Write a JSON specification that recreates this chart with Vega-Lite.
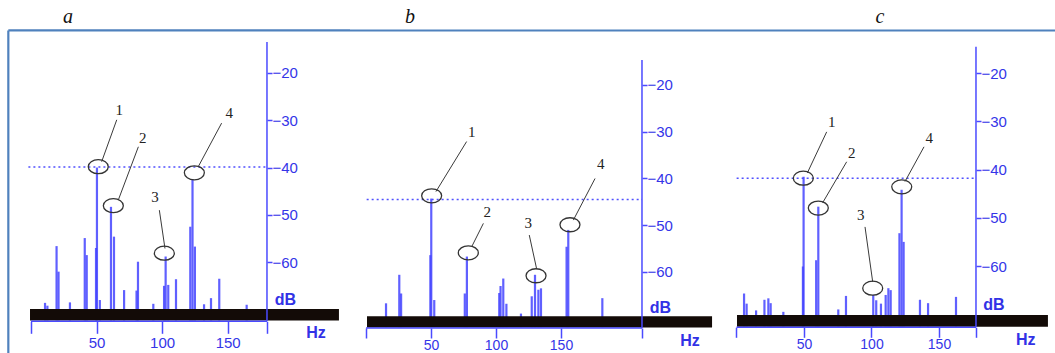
{
  "$schema": "https://vega.github.io/schema/vega-lite/v6.json",
  "padding": 0,
  "spacing": 0,
  "bounds": "flush",
  "background": "white",
  "config": {
    "view": {"stroke": null},
    "axis": {"grid": false, "domain": false, "title": null, "labelFont": "Liberation Sans", "labelFontSize": 15, "labelColor": "#3535e8", "tickColor": "#4a4aff", "tickWidth": 1.5, "labelOverlap": false, "labelFlush": false}
  },
  "datasets": {
    "pa": [
      {"kind": "frame", "hz": -17.3, "hz2": 243.33, "db": -11.01, "db2": -11.01},
      {"kind": "frame", "hz": -17.3, "hz2": -17.3, "db": -11.01, "db2": -79.2},
      {"kind": "ref", "hz": -2, "hz2": 180, "db": -39.9},
      {"kind": "spike", "hz": 10.7, "db": -68.6},
      {"kind": "spike", "hz": 12.5, "db": -69.2},
      {"kind": "spike", "hz": 19.5, "db": -56.6},
      {"kind": "spike", "hz": 21, "db": -62},
      {"kind": "spike", "hz": 29.7, "db": -68.5},
      {"kind": "spike", "hz": 41, "db": -54.9},
      {"kind": "spike", "hz": 42.5, "db": -58.5},
      {"kind": "spike", "hz": 49.6, "db": -57},
      {"kind": "spike", "hz": 50.3, "db": -40},
      {"kind": "spike", "hz": 52.5, "db": -68},
      {"kind": "spike", "hz": 61, "db": -48.3},
      {"kind": "spike", "hz": 63.3, "db": -54.6},
      {"kind": "spike", "hz": 71, "db": -65.9},
      {"kind": "spike", "hz": 80.5, "db": -66},
      {"kind": "spike", "hz": 81.6, "db": -59.9},
      {"kind": "spike", "hz": 93.3, "db": -68.8},
      {"kind": "spike", "hz": 101.5, "db": -65},
      {"kind": "spike", "hz": 102.7, "db": -58.8},
      {"kind": "spike", "hz": 104.7, "db": -64.8},
      {"kind": "spike", "hz": 110.6, "db": -63.6},
      {"kind": "spike", "hz": 121.5, "db": -52.5},
      {"kind": "spike", "hz": 123.2, "db": -42.5},
      {"kind": "spike", "hz": 125, "db": -56.7},
      {"kind": "spike", "hz": 132, "db": -68.9},
      {"kind": "spike", "hz": 137.3, "db": -67.6},
      {"kind": "spike", "hz": 143.6, "db": -63.5},
      {"kind": "spike", "hz": 164.5, "db": -69},
      {"kind": "bar", "hz": -0.76, "hz2": 234.9, "db": -69.9, "db2": -72.35},
      {"kind": "axis", "hz": 0, "hz2": 180, "db": -72.5, "db2": -72.5},
      {"kind": "axis", "hz": 180, "hz2": 180, "db": -13.45, "db2": -72.5},
      {"kind": "circle", "hz": 51.3, "db": -39.8},
      {"kind": "circle", "hz": 62.8, "db": -48.05},
      {"kind": "circle", "hz": 101.7, "db": -58.1},
      {"kind": "circle", "hz": 124.6, "db": -41.1},
      {"kind": "leader", "hz": 53.9, "db": -38.75, "hz2": 65.4, "db2": -29.9},
      {"kind": "leader", "hz": 66.6, "db": -46.85, "hz2": 81.9, "db2": -35.6},
      {"kind": "leader", "hz": 102.2, "db": -57.1, "hz2": 97.9, "db2": -49.0},
      {"kind": "leader", "hz": 127.6, "db": -39.8, "hz2": 145.4, "db2": -30.6},
      {"kind": "num", "hz": 67.4, "db": -27.8, "t": "1"},
      {"kind": "num", "hz": 85.2, "db": -33.8, "t": "2"},
      {"kind": "num", "hz": 94.6, "db": -46.2, "t": "3"},
      {"kind": "num", "hz": 151.3, "db": -28.5, "t": "4"},
      {"kind": "unit", "hz": 194.1, "db": -68.0, "t": "dB"},
      {"kind": "unit", "hz": 217.4, "db": -74.97, "t": "Hz"},
      {"kind": "letter", "hz": 28.2, "db": -8.16, "t": "a"}
    ],
    "pb": [
      {"kind": "frame", "hz": -12.31, "hz2": 273.85, "db": -8.34, "db2": -8.34},
      {"kind": "ref", "hz": 0.5, "hz2": 212.3, "db": -44.5},
      {"kind": "spike", "hz": 15.4, "db": -66.7},
      {"kind": "spike", "hz": 25.6, "db": -60.6},
      {"kind": "spike", "hz": 27, "db": -64.6},
      {"kind": "spike", "hz": 49.5, "db": -56.4},
      {"kind": "spike", "hz": 50.2, "db": -44.3},
      {"kind": "spike", "hz": 52.5, "db": -66},
      {"kind": "spike", "hz": 76, "db": -64.6},
      {"kind": "spike", "hz": 77.6, "db": -56.7},
      {"kind": "spike", "hz": 102.5, "db": -64.5},
      {"kind": "spike", "hz": 103.5, "db": -63},
      {"kind": "spike", "hz": 105.6, "db": -61.4},
      {"kind": "spike", "hz": 108, "db": -66.8},
      {"kind": "spike", "hz": 119.2, "db": -68.9},
      {"kind": "spike", "hz": 127.5, "db": -65.2},
      {"kind": "spike", "hz": 130, "db": -60.6},
      {"kind": "spike", "hz": 132.6, "db": -63.8},
      {"kind": "spike", "hz": 134.6, "db": -63.5},
      {"kind": "spike", "hz": 154.3, "db": -54.6},
      {"kind": "spike", "hz": 155.6, "db": -51},
      {"kind": "spike", "hz": 181.8, "db": -65.6},
      {"kind": "bar", "hz": 0.77, "hz2": 266.2, "db": -69.45, "db2": -71.85},
      {"kind": "axis", "hz": 0, "hz2": 212.3, "db": -71.98, "db2": -71.98},
      {"kind": "axis", "hz": 212.3, "hz2": 212.3, "db": -14.65, "db2": -71.98},
      {"kind": "circle", "hz": 50.5, "db": -43.7},
      {"kind": "circle", "hz": 78.7, "db": -55.9},
      {"kind": "circle", "hz": 130.8, "db": -60.8},
      {"kind": "circle", "hz": 156.9, "db": -49.9},
      {"kind": "leader", "hz": 53.8, "db": -42.8, "hz2": 77.4, "db2": -32.1},
      {"kind": "leader", "hz": 81.3, "db": -54.6, "hz2": 90.3, "db2": -49.6},
      {"kind": "leader", "hz": 131.3, "db": -59.4, "hz2": 125.6, "db2": -52.1},
      {"kind": "leader", "hz": 159.5, "db": -48.9, "hz2": 176.2, "db2": -40.0},
      {"kind": "num", "hz": 81.3, "db": -30.0, "t": "1"},
      {"kind": "num", "hz": 93.3, "db": -47.1, "t": "2"},
      {"kind": "num", "hz": 124.9, "db": -49.5, "t": "3"},
      {"kind": "num", "hz": 180.5, "db": -36.8, "t": "4"},
      {"kind": "unit", "hz": 226.5, "db": -67.7, "t": "dB"},
      {"kind": "unit", "hz": 249.2, "db": -74.76, "t": "Hz"},
      {"kind": "letter", "hz": 33.8, "db": -5.45, "t": "b"}
    ],
    "pc": [
      {"kind": "frame", "hz": -10.74, "hz2": 235.93, "db": -11.19, "db2": -11.19},
      {"kind": "ref", "hz": 0.1, "hz2": 177.4, "db": -41.8},
      {"kind": "spike", "hz": 5.6, "db": -65.7},
      {"kind": "spike", "hz": 7.5, "db": -67.8},
      {"kind": "spike", "hz": 14.5, "db": -69.2},
      {"kind": "spike", "hz": 20.7, "db": -67},
      {"kind": "spike", "hz": 23.6, "db": -66.7},
      {"kind": "spike", "hz": 25.3, "db": -67.7},
      {"kind": "spike", "hz": 34.7, "db": -69.5},
      {"kind": "spike", "hz": 49.2, "db": -60.1},
      {"kind": "spike", "hz": 49.7, "db": -41.5},
      {"kind": "spike", "hz": 59, "db": -58.8},
      {"kind": "spike", "hz": 60.6, "db": -47.7},
      {"kind": "spike", "hz": 75.4, "db": -69},
      {"kind": "spike", "hz": 81.1, "db": -66.2},
      {"kind": "spike", "hz": 101.3, "db": -66},
      {"kind": "spike", "hz": 103.5, "db": -67.1},
      {"kind": "spike", "hz": 107, "db": -67.8},
      {"kind": "spike", "hz": 110.5, "db": -66},
      {"kind": "spike", "hz": 112.5, "db": -64.6},
      {"kind": "spike", "hz": 114.2, "db": -65},
      {"kind": "spike", "hz": 120.7, "db": -53.2},
      {"kind": "spike", "hz": 122.3, "db": -44.2},
      {"kind": "spike", "hz": 123.8, "db": -55},
      {"kind": "spike", "hz": 135.9, "db": -67},
      {"kind": "spike", "hz": 141.9, "db": -67.7},
      {"kind": "spike", "hz": 162.6, "db": -66.4},
      {"kind": "bar", "hz": 0.37, "hz2": 230.7, "db": -70.15, "db2": -72.58},
      {"kind": "axis", "hz": 0, "hz2": 177.4, "db": -72.7, "db2": -72.7},
      {"kind": "axis", "hz": 177.4, "hz2": 177.4, "db": -14.55, "db2": -72.7},
      {"kind": "circle", "hz": 49.5, "db": -41.8},
      {"kind": "circle", "hz": 60.6, "db": -48.0},
      {"kind": "circle", "hz": 100.9, "db": -64.6},
      {"kind": "circle", "hz": 122.4, "db": -43.6},
      {"kind": "leader", "hz": 52.5, "db": -40.7, "hz2": 66.8, "db2": -32.2},
      {"kind": "leader", "hz": 63.8, "db": -46.9, "hz2": 81.6, "db2": -38.4},
      {"kind": "leader", "hz": 100.9, "db": -63.3, "hz2": 95.2, "db2": -51.9},
      {"kind": "leader", "hz": 124.8, "db": -42.5, "hz2": 138.9, "db2": -35.3},
      {"kind": "num", "hz": 70.5, "db": -30.1, "t": "1"},
      {"kind": "num", "hz": 85.3, "db": -36.6, "t": "2"},
      {"kind": "num", "hz": 92.0, "db": -49.4, "t": "3"},
      {"kind": "num", "hz": 142.8, "db": -33.5, "t": "4"},
      {"kind": "unit", "hz": 190.7, "db": -68.1, "t": "dB"},
      {"kind": "unit", "hz": 214.2, "db": -75.3, "t": "Hz"},
      {"kind": "letter", "hz": 106.3, "db": -8.39, "t": "c"}
    ]
  },
  "hconcat": [
    {
      "width": 350, "height": 353,
      "data": {"name": "pa"},
      "encoding": {
        "x": {"field": "hz", "type": "quantitative", "scale": {"domain": [-23.65, 243.33], "nice": false, "zero": false},
              "axis": {"orient": "bottom", "offset": -31.7, "values": [0, 50, 100, 150, 180], "labelExpr": "datum.value == 0 || datum.value > 160 ? '' : datum.label", "tickSize": 12, "labelPadding": 2}},
        "y": {"field": "db", "type": "quantitative", "scale": {"domain": [-79.2, -4.567], "nice": false, "zero": false},
              "axis": {"orient": "right", "offset": -83, "values": [-20, -30, -40, -50, -60], "tickSize": 5, "labelPadding": 0}}
      },
      "layer": [
        {"transform": [{"filter": "datum.kind == 'frame'"}], "mark": {"type": "rule", "color": "#4f81bd", "strokeWidth": 2.2}, "encoding": {"x2": {"field": "hz2"}, "y2": {"field": "db2"}}},
        {"transform": [{"filter": "datum.kind == 'ref'"}], "mark": {"type": "rule", "color": "#5050ff", "strokeWidth": 1.5, "strokeDash": [2, 3]}, "encoding": {"x2": {"field": "hz2"}}},
        {"transform": [{"filter": "datum.kind == 'spike'"}], "mark": {"type": "rule", "color": "#4444ff", "strokeWidth": 2.2, "opacity": 0.85}, "encoding": {"y2": {"datum": -72.3}}},
        {"transform": [{"filter": "datum.kind == 'bar'"}], "mark": {"type": "rect", "color": "#130b07"}, "encoding": {"x2": {"field": "hz2"}, "y2": {"field": "db2"}}},
        {"transform": [{"filter": "datum.kind == 'axis'"}], "mark": {"type": "rule", "color": "#4a4aff", "strokeWidth": 1.5}, "encoding": {"x2": {"field": "hz2"}, "y2": {"field": "db2"}}},
        {"transform": [{"filter": "datum.kind == 'circle'"}], "mark": {"type": "point", "shape": "M-1,0A1,0.7,0,1,1,1,0A1,0.7,0,1,1,-1,0Z", "size": 400, "filled": false, "stroke": "#333333", "strokeWidth": 1.3, "opacity": 1}},
        {"transform": [{"filter": "datum.kind == 'leader'"}], "mark": {"type": "rule", "color": "#3a3a3a", "strokeWidth": 1}, "encoding": {"x2": {"field": "hz2"}, "y2": {"field": "db2"}}},
        {"transform": [{"filter": "datum.kind == 'num'"}], "mark": {"type": "text", "font": "Liberation Serif", "fontSize": 15, "color": "#222222", "align": "center", "baseline": "middle"}, "encoding": {"text": {"field": "t"}}},
        {"transform": [{"filter": "datum.kind == 'unit'"}], "mark": {"type": "text", "font": "Liberation Sans", "fontSize": 16, "fontWeight": "bold", "color": "#3232e6", "align": "center", "baseline": "middle"}, "encoding": {"text": {"field": "t"}}},
        {"transform": [{"filter": "datum.kind == 'letter'"}], "mark": {"type": "text", "font": "Liberation Serif", "fontSize": 20, "fontStyle": "italic", "color": "#111111", "align": "center", "baseline": "middle"}, "encoding": {"text": {"field": "t"}}}
      ]
    },
    {
      "width": 372, "height": 353,
      "data": {"name": "pb"},
      "encoding": {
        "x": {"field": "hz", "type": "quantitative", "scale": {"domain": [-12.31, 273.85], "nice": false, "zero": false},
              "axis": {"orient": "bottom", "offset": -25, "values": [0, 50, 100, 150, 212.3], "labelExpr": "datum.value == 0 || datum.value > 200 ? '' : datum.label", "tickSize": 10, "labelPadding": 0, "labelFontSize": 14}},
        "y": {"field": "db", "type": "quantitative", "scale": {"domain": [-77.33, -1.818], "nice": false, "zero": false},
              "axis": {"orient": "right", "offset": -80, "values": [-20, -30, -40, -50, -60], "tickSize": 5, "labelPadding": 0}}
      },
      "layer": [
        {"transform": [{"filter": "datum.kind == 'frame'"}], "mark": {"type": "rule", "color": "#4f81bd", "strokeWidth": 2.2}, "encoding": {"x2": {"field": "hz2"}, "y2": {"field": "db2"}}},
        {"transform": [{"filter": "datum.kind == 'ref'"}], "mark": {"type": "rule", "color": "#5050ff", "strokeWidth": 1.5, "strokeDash": [2, 3]}, "encoding": {"x2": {"field": "hz2"}}},
        {"transform": [{"filter": "datum.kind == 'spike'"}], "mark": {"type": "rule", "color": "#4444ff", "strokeWidth": 2.2, "opacity": 0.85}, "encoding": {"y2": {"datum": -71.8}}},
        {"transform": [{"filter": "datum.kind == 'bar'"}], "mark": {"type": "rect", "color": "#130b07"}, "encoding": {"x2": {"field": "hz2"}, "y2": {"field": "db2"}}},
        {"transform": [{"filter": "datum.kind == 'axis'"}], "mark": {"type": "rule", "color": "#4a4aff", "strokeWidth": 1.5}, "encoding": {"x2": {"field": "hz2"}, "y2": {"field": "db2"}}},
        {"transform": [{"filter": "datum.kind == 'circle'"}], "mark": {"type": "point", "shape": "M-1,0A1,0.7,0,1,1,1,0A1,0.7,0,1,1,-1,0Z", "size": 400, "filled": false, "stroke": "#333333", "strokeWidth": 1.3, "opacity": 1}},
        {"transform": [{"filter": "datum.kind == 'leader'"}], "mark": {"type": "rule", "color": "#3a3a3a", "strokeWidth": 1}, "encoding": {"x2": {"field": "hz2"}, "y2": {"field": "db2"}}},
        {"transform": [{"filter": "datum.kind == 'num'"}], "mark": {"type": "text", "font": "Liberation Serif", "fontSize": 15, "color": "#222222", "align": "center", "baseline": "middle"}, "encoding": {"text": {"field": "t"}}},
        {"transform": [{"filter": "datum.kind == 'unit'"}], "mark": {"type": "text", "font": "Liberation Sans", "fontSize": 16, "fontWeight": "bold", "color": "#3232e6", "align": "center", "baseline": "middle"}, "encoding": {"text": {"field": "t"}}},
        {"transform": [{"filter": "datum.kind == 'letter'"}], "mark": {"type": "text", "font": "Liberation Serif", "fontSize": 20, "fontStyle": "italic", "color": "#111111", "align": "center", "baseline": "middle"}, "encoding": {"text": {"field": "t"}}}
      ]
    },
    {
      "width": 333, "height": 353,
      "data": {"name": "pc"},
      "encoding": {
        "x": {"field": "hz", "type": "quantitative", "scale": {"domain": [-10.74, 235.93], "nice": false, "zero": false},
              "axis": {"orient": "bottom", "offset": -25.7, "values": [0, 50, 100, 150, 177.4], "labelExpr": "datum.value == 0 || datum.value > 160 ? '' : datum.label", "tickSize": 10, "labelPadding": 0, "labelFontSize": 14}},
        "y": {"field": "db", "type": "quantitative", "scale": {"domain": [-78.03, -4.87], "nice": false, "zero": false},
              "axis": {"orient": "right", "offset": -79, "values": [-20, -30, -40, -50, -60], "tickSize": 5, "labelPadding": 0}}
      },
      "layer": [
        {"transform": [{"filter": "datum.kind == 'frame'"}], "mark": {"type": "rule", "color": "#4f81bd", "strokeWidth": 2.2}, "encoding": {"x2": {"field": "hz2"}, "y2": {"field": "db2"}}},
        {"transform": [{"filter": "datum.kind == 'ref'"}], "mark": {"type": "rule", "color": "#5050ff", "strokeWidth": 1.5, "strokeDash": [2, 3]}, "encoding": {"x2": {"field": "hz2"}}},
        {"transform": [{"filter": "datum.kind == 'spike'"}], "mark": {"type": "rule", "color": "#4444ff", "strokeWidth": 2.2, "opacity": 0.85}, "encoding": {"y2": {"datum": -72.5}}},
        {"transform": [{"filter": "datum.kind == 'bar'"}], "mark": {"type": "rect", "color": "#130b07"}, "encoding": {"x2": {"field": "hz2"}, "y2": {"field": "db2"}}},
        {"transform": [{"filter": "datum.kind == 'axis'"}], "mark": {"type": "rule", "color": "#4a4aff", "strokeWidth": 1.5}, "encoding": {"x2": {"field": "hz2"}, "y2": {"field": "db2"}}},
        {"transform": [{"filter": "datum.kind == 'circle'"}], "mark": {"type": "point", "shape": "M-1,0A1,0.7,0,1,1,1,0A1,0.7,0,1,1,-1,0Z", "size": 400, "filled": false, "stroke": "#333333", "strokeWidth": 1.3, "opacity": 1}},
        {"transform": [{"filter": "datum.kind == 'leader'"}], "mark": {"type": "rule", "color": "#3a3a3a", "strokeWidth": 1}, "encoding": {"x2": {"field": "hz2"}, "y2": {"field": "db2"}}},
        {"transform": [{"filter": "datum.kind == 'num'"}], "mark": {"type": "text", "font": "Liberation Serif", "fontSize": 15, "color": "#222222", "align": "center", "baseline": "middle"}, "encoding": {"text": {"field": "t"}}},
        {"transform": [{"filter": "datum.kind == 'unit'"}], "mark": {"type": "text", "font": "Liberation Sans", "fontSize": 16, "fontWeight": "bold", "color": "#3232e6", "align": "center", "baseline": "middle"}, "encoding": {"text": {"field": "t"}}},
        {"transform": [{"filter": "datum.kind == 'letter'"}], "mark": {"type": "text", "font": "Liberation Serif", "fontSize": 20, "fontStyle": "italic", "color": "#111111", "align": "center", "baseline": "middle"}, "encoding": {"text": {"field": "t"}}}
      ]
    }
  ]
}
